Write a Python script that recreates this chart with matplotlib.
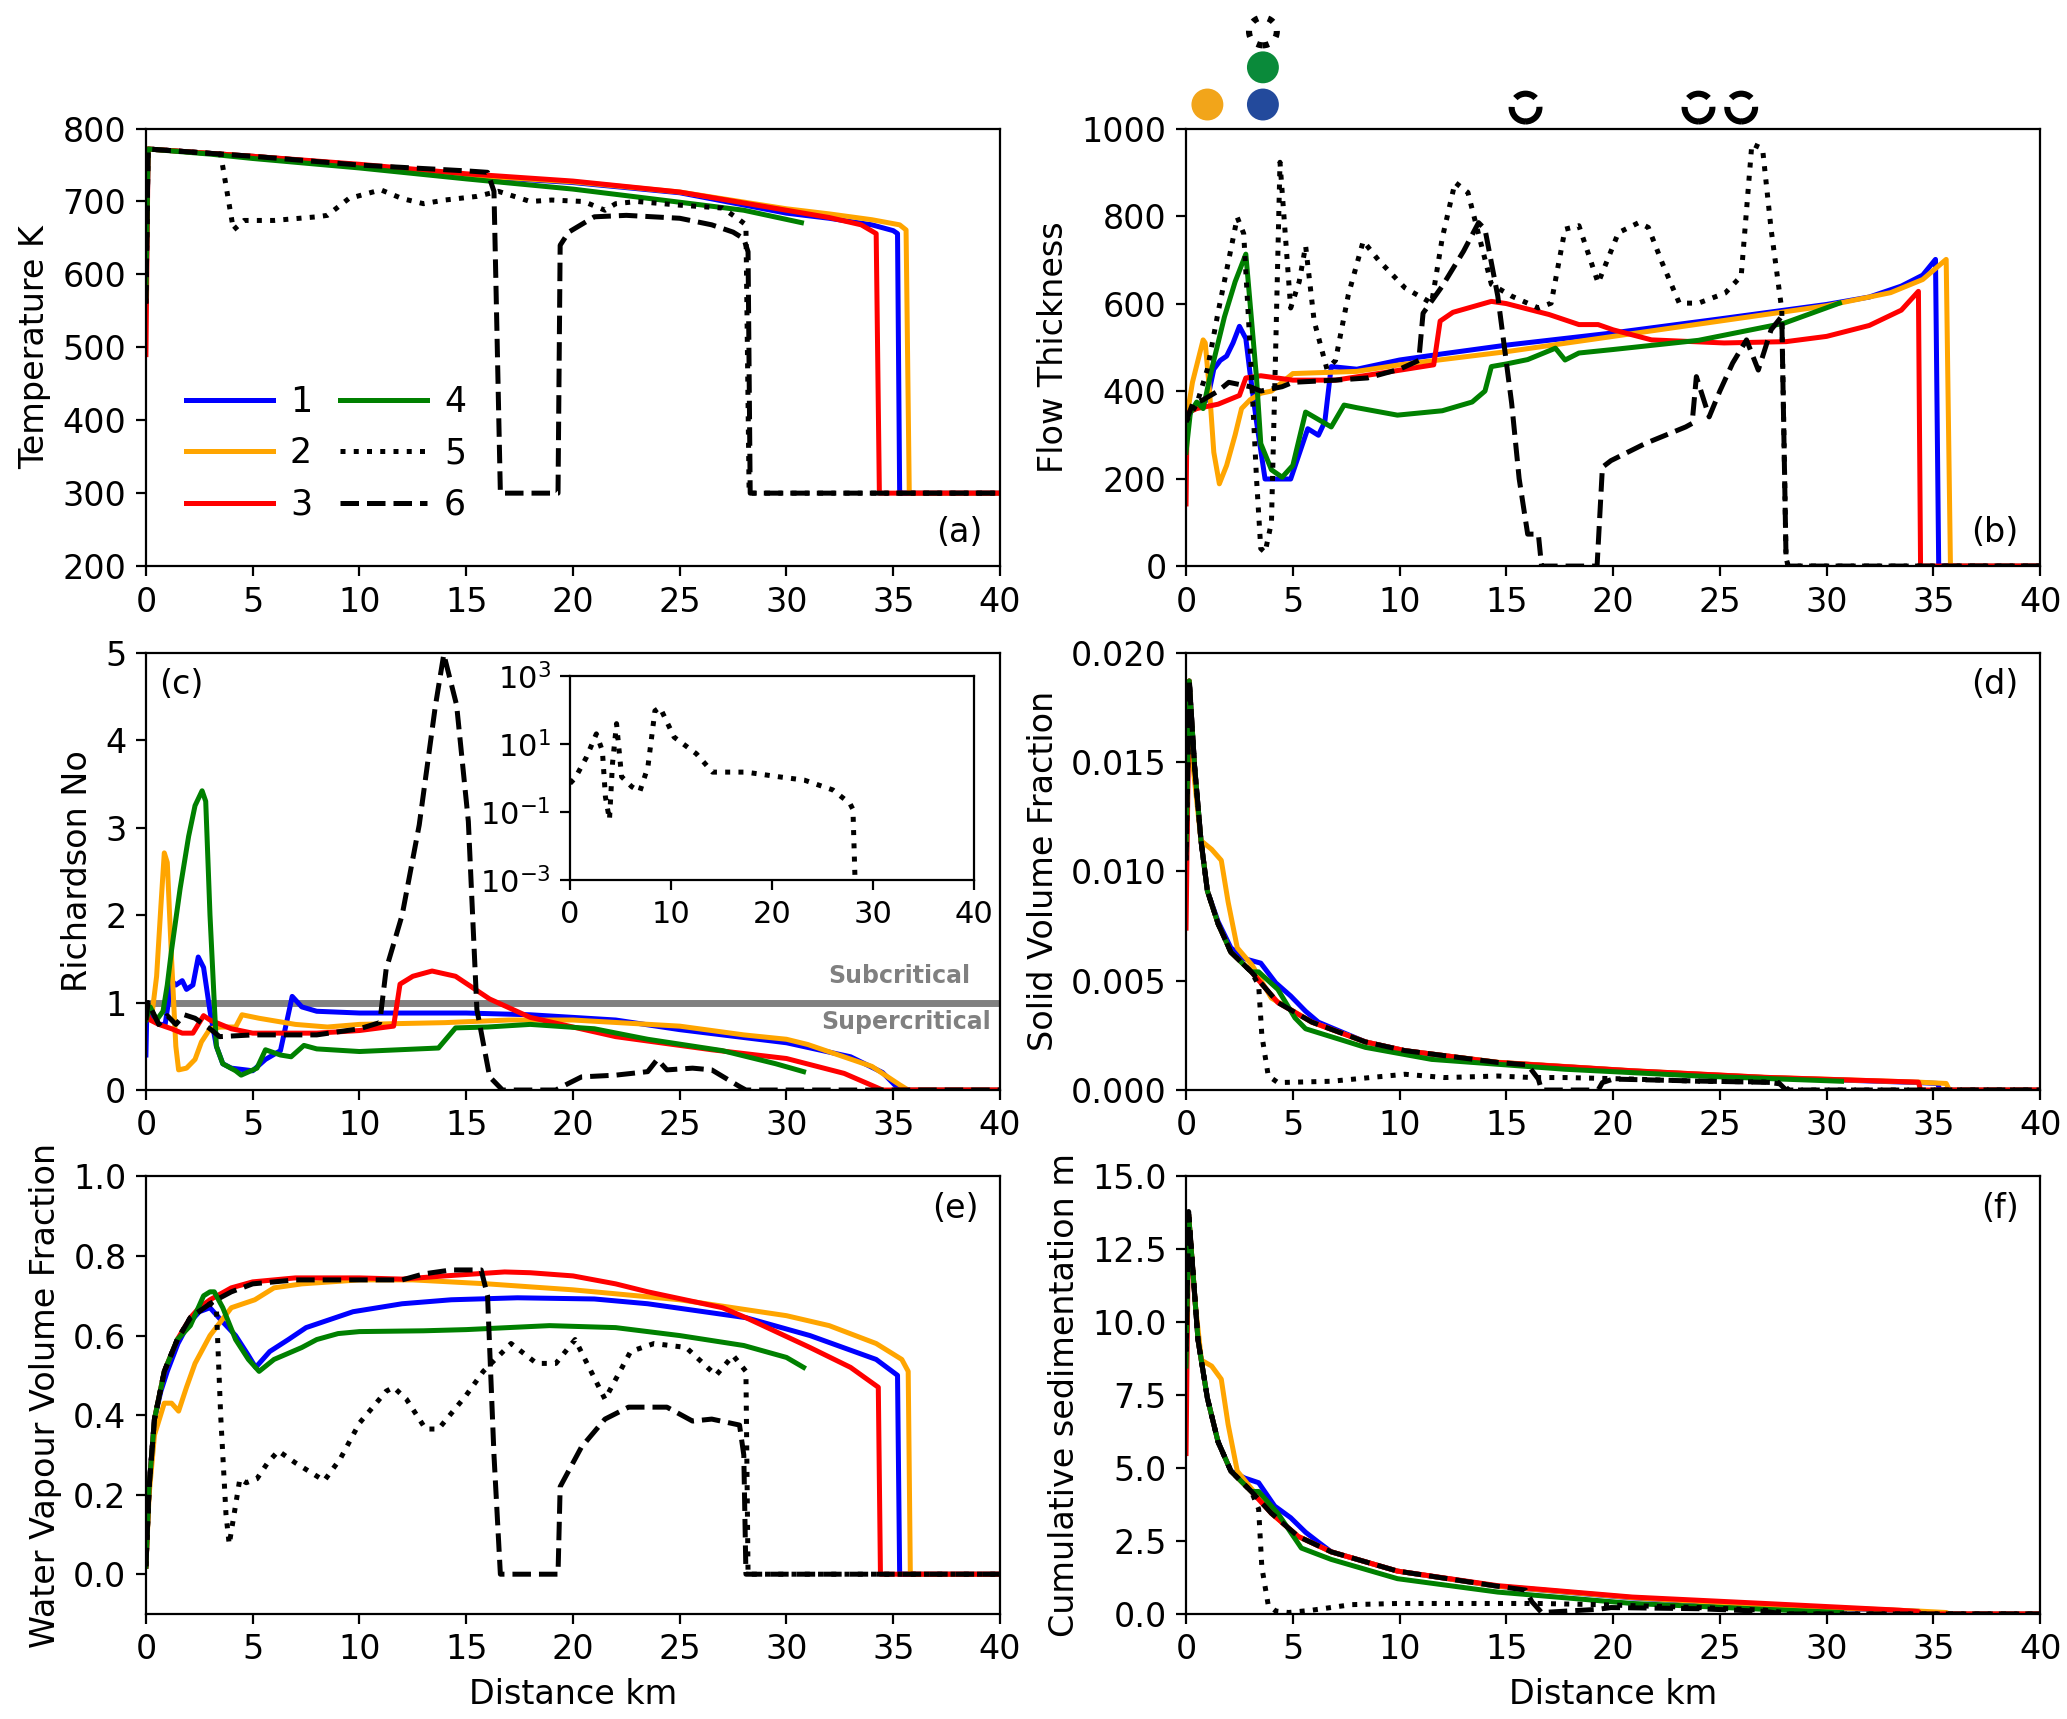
import matplotlib
matplotlib.use("Agg")
import matplotlib.pyplot as plt
import numpy as np

plt.rcParams['font.family'] = ['DejaVu Sans']
plt.rcParams['font.size'] = 12

# colours / styles for the six runs
colors = ['#0000ff', '#ffa500', '#ff0000', '#008000', 'black', 'black']
styles = ['-', '-', '-', '-', ':', '--']
labels = ['1', '2', '3', '4', '5', '6']

# ---------------- (a) temperature ----------------
temp_x1 = [0, 0.1, 3, 5, 10, 15, 20, 25, 30, 32, 34, 35.0, 35.2, 35.3, 40]
temp_y1 = [560, 772, 766, 762, 750, 735, 726, 712, 684, 677, 668, 660, 656, 300, 300]
temp_x2 = [0, 0.1, 3, 5, 10, 15, 20, 25, 30, 32, 34, 35.3, 35.6, 35.75, 40]
temp_y2 = [580, 772, 766, 762, 750, 736, 727, 713, 690, 683, 675, 668, 661, 300, 300]
temp_x3 = [0, 0.1, 3, 5, 10, 15, 20, 25, 30, 32, 33.5, 34.2, 34.35, 40]
temp_y3 = [490, 772, 766, 762, 751, 738, 728, 713, 688, 678, 668, 656, 300, 300]
temp_x4 = [0, 0.1, 3, 5, 10, 15, 20, 25, 28, 30.7]
temp_y4 = [570, 772, 765, 759, 746, 731, 717, 699, 688, 671]
temp_x5 = [0, 0.1, 3.5, 4.1, 4.6, 6, 8, 8.5, 9.5, 11, 12, 13, 14, 15.5, 16.5, 18, 19,
           20.5, 21.5, 22, 23, 25, 27, 27.7, 28.1, 28.25, 40]
temp_y5 = [560, 772, 765, 661, 674, 674, 679, 681, 704, 716, 704, 697, 702, 707, 714, 700, 702,
           700, 688, 697, 700, 695, 691, 677, 668, 300, 300]
temp_x6 = [0, 0.1, 5, 10, 15, 16, 16.3, 16.6, 19.3, 19.4, 19.8, 21, 22.5, 25, 26.5, 27.5,
           28, 28.2, 28.3, 40]
temp_y6 = [560, 772, 762, 750, 742, 740, 714, 300, 300, 640, 658, 679, 681, 677, 668, 658,
           649, 631, 300, 300]

# ---------------- (b) flow thickness ----------------
thick_x1 = [0, 0.3, 1.0, 1.3, 1.6, 1.9, 2.2, 2.5, 2.8, 3.0, 3.3, 3.7, 4.9, 5.7, 6.2, 6.5,
            6.8, 7.0, 8, 10, 12, 15, 20, 25, 30, 32, 33.5, 34.5, 35.1, 35.25, 40]
thick_y1 = [330, 360, 380, 450, 470, 480, 510, 548, 520, 440, 330, 199, 199, 314, 299, 330,
            456, 455, 450, 471, 485, 505, 533, 565, 598, 615, 640, 665, 701, 0, 0]
thick_x2 = [0, 0.3, 0.8, 0.9, 1.1, 1.3, 1.56, 1.9, 2.3, 2.6, 3.0, 3.5, 4.0, 4.5, 5, 8, 10,
            15, 20, 25, 30, 33, 34.5, 35.6, 35.8, 40]
thick_y2 = [330, 420, 517, 510, 400, 260, 188, 230, 300, 360, 380, 395, 400, 420, 440, 445,
            460, 490, 525, 560, 595, 625, 655, 701, 0, 0]
thick_x3 = [0, 0.05, 0.5, 1.5, 2.5, 2.8, 3.5, 5, 7, 9, 11.6, 11.9, 12.5, 14.3, 15, 17, 18.4,
            19.3, 20, 21.8, 25.2, 28.1, 30, 32, 33.5, 34.3, 34.4, 40]
thick_y3 = [142, 350, 360, 370, 390, 430, 435, 425, 425, 440, 460, 560, 580, 605, 600, 575,
            552, 552, 540, 517, 510, 513, 525, 550, 585, 628, 0, 0]
thick_x4 = [0, 0.2, 0.5, 0.8, 1.2, 1.8, 2.3, 2.8, 3.0, 3.3, 3.5, 4.0, 4.5, 5.0, 5.6, 6.2,
            6.8, 7.4, 8, 9.9, 12, 13.4, 14.0, 14.3, 15, 16, 17.3, 17.75, 18.4, 20, 24, 28, 30.6]
thick_y4 = [260, 350, 375, 360, 450, 570, 650, 713, 600, 430, 280, 220, 203, 230, 352, 335,
            318, 368, 362, 345, 355, 375, 400, 456, 462, 472, 498, 471, 487, 495, 516, 555, 601]
thick_x5 = [0, 0.5, 1.0, 1.5, 2.0, 2.4, 2.7, 3.0, 3.3, 3.5, 3.7, 4.0, 4.2, 4.4, 4.9, 5.3,
            5.6, 6.0, 6.6, 7.0, 7.6, 8.3, 9.0, 10.25, 11.5, 12.0, 12.6, 13.2, 14.3, 15.25,
            16.5, 17.1, 17.75, 18.4, 19.3, 20.25, 21.2, 21.65, 22.3, 23.1, 24, 25.25, 26,
            26.5, 27.0, 27.4, 27.9, 28.1, 28.2, 40]
thick_y5 = [330, 370, 450, 580, 700, 797, 760, 500, 200, 40, 31, 100, 500, 923, 590, 650,
            732, 560, 450, 470, 620, 743, 700, 636, 601, 750, 877, 854, 644, 617,
            590, 601, 770, 778, 647, 762, 785, 774, 693, 601, 601, 624, 663,
            965, 954, 770, 586, 19, 0, 0]
thick_x6 = [0, 0.3, 0.8, 1.5, 2.0, 3.0, 3.5, 4.5, 5.0, 7.0, 8.5, 10, 10.9, 11.1, 12, 13,
            13.7, 14.0, 14.6, 15.25, 15.6, 16.0, 16.5, 16.65, 19.25, 19.5, 19.9, 21.5, 23.4,
            23.7, 23.9, 24.5, 25.0, 25.6, 26.25, 26.8, 27.4, 27.9, 28.1, 28.2, 40]
thick_y6 = [330, 370, 380, 400, 420, 410, 400, 410, 420, 425, 430, 450, 470, 578, 640, 720,
            785, 770, 617, 372, 200, 73, 73, 0, 0, 226, 241, 280, 318,
            326, 433, 341, 400, 464, 517, 448, 540, 571, 19, 0, 0]

# markers drawn above panel (b)
mark_x = [1.0, 3.6, 3.6, 3.6]
mark_y = [1055, 1055, 1140, 1222]
mark_col = ['#f2a51a', '#234a9c', '#0a8a3a', 'none']
dash_mark_x = [15.9, 24.0, 26.0]
dash_mark_y = [1048, 1048, 1048]

# ---------------- (c) Richardson number ----------------
ri_x1 = [0, 0.05, 0.3, 0.6, 0.9, 1.2, 1.4, 1.7, 1.9, 2.2, 2.45, 2.7, 3.0, 3.3, 3.6, 4.0,
         5.0, 5.6, 6.3, 6.7, 6.85, 7.3, 8, 10, 15, 18, 20, 22, 25, 28, 30, 33, 34.5, 35.3, 40]
ri_y1 = [0.4, 1.0, 0.85, 0.75, 0.75, 1.25, 1.2, 1.25, 1.15, 1.2, 1.52, 1.4, 0.9, 0.5, 0.3,
         0.25, 0.22, 0.35, 0.45, 0.9, 1.07, 0.95, 0.9, 0.88, 0.88, 0.86, 0.83, 0.8, 0.69,
         0.6, 0.54, 0.38, 0.2, 0.0, 0.0]
ri_x2 = [0, 0.3, 0.5, 0.7, 0.86, 1.0, 1.2, 1.4, 1.53, 1.9, 2.3, 2.6, 3.0, 3.5, 4.2, 4.5,
         5.3, 7, 8.5, 10, 14, 17, 20, 25, 28, 30, 31, 34, 35.3, 35.7, 40]
ri_y2 = [1.0, 0.9, 1.3, 2.1, 2.71, 2.6, 1.5, 0.5, 0.23, 0.25, 0.35, 0.55, 0.7, 0.72, 0.72,
         0.86, 0.82, 0.75, 0.72, 0.75, 0.77, 0.8, 0.8, 0.73, 0.63, 0.58, 0.52, 0.27, 0.06,
         0.0, 0.0]
ri_x3 = [0, 0.2, 0.6, 1.2, 1.7, 2.2, 2.7, 3.0, 4, 5, 8, 10, 11.6, 11.9, 12.5, 13.4, 14.5,
         16.1, 18, 20, 22, 26.5, 30, 32.7, 34.5, 40]
ri_y3 = [0.9, 0.8, 0.75, 0.7, 0.65, 0.65, 0.85, 0.8, 0.7, 0.65, 0.65, 0.68, 0.73, 1.21, 1.3,
         1.36, 1.3, 1.04, 0.83, 0.72, 0.61, 0.46, 0.36, 0.19, 0.0, 0.0]
ri_x4 = [0, 0.2, 0.5, 0.8, 1.0, 1.2, 1.6, 2.0, 2.3, 2.63, 2.8, 3.0, 3.3, 3.6, 4.2, 4.46,
         5.2, 5.6, 6.3, 6.8, 7.4, 8, 10, 13.7, 14.5, 16, 18, 21, 23.5, 27, 29.5, 30.8]
ri_y4 = [0.8, 0.95, 0.8, 0.9, 1.2, 1.6, 2.3, 2.9, 3.25, 3.42, 3.3, 2.0, 0.5, 0.3, 0.22,
         0.17, 0.25, 0.46, 0.4, 0.38, 0.51, 0.47, 0.44, 0.48, 0.71, 0.72, 0.75, 0.7, 0.58,
         0.45, 0.3, 0.21]
ri_x6 = [0, 0.1, 0.3, 0.6, 1.0, 1.4, 1.8, 2.3, 3.0, 3.45, 5, 8, 10, 10.95, 11.25, 12,
         12.8, 13.55, 13.95, 14.55, 15.1, 15.5, 16.1, 16.7, 19.2, 19.5, 20.4, 22, 23.5,
         23.95, 24.4, 25.6, 26.5, 27.8, 28.1, 40]
ri_y6 = [0.8, 1.0, 0.9, 0.75, 0.85, 0.75, 0.86, 0.82, 0.7, 0.61, 0.63, 0.63, 0.7, 0.77,
         1.38, 2.0, 3.03, 4.38, 4.98, 4.4, 3.07, 0.92, 0.15, 0.0, 0.0, 0.04, 0.15, 0.17,
         0.21, 0.35, 0.23, 0.25, 0.23, 0.04, 0.0, 0.0]

# inset: run 5 on log axis
ins_x5 = [0, 0.5, 1.6, 2.6, 3.2, 3.5, 3.9, 4.2, 4.6, 5.1, 6.1, 6.9, 7.7, 8.4, 8.9, 10.3,
          12.5, 14.1, 17.4, 20.6, 23.2, 26, 27.7, 28.0, 28.2]
ins_y5 = [0.7, 1.0, 4.0, 20, 6.3, 0.28, 0.06, 2.7, 40, 1.1, 0.56, 0.4, 2.1, 95, 120, 16,
          5.2, 1.5, 1.5, 1.1, 0.87, 0.45, 0.18, 0.12, 0.0012]

# ---------------- (d) solid volume fraction ----------------
svf_x1 = [0, 0.15, 0.4, 0.7, 1.0, 1.5, 2.1, 2.75, 3.5, 4.2, 4.9, 5.6, 6.2, 8.4, 10.25,
          14.6, 20.9, 27.1, 34.3, 35.2, 35.3, 40]
svf_y1 = [0.0095, 0.0187, 0.0148, 0.0114, 0.0091, 0.0077, 0.0065, 0.006, 0.0058, 0.0049,
          0.0043, 0.0036, 0.0031, 0.0022, 0.0018, 0.00126, 0.00087, 0.00057, 0.00034,
          0.0003, 0.0, 0.0]
svf_x2 = [0, 0.15, 0.25, 0.7, 1.2, 1.65, 1.97, 2.4, 3.1, 4.0, 5.9, 8.4, 10.25, 14.6, 20.9,
          27.1, 34.3, 35.6, 35.75, 40]
svf_y2 = [0.0100, 0.0187, 0.0155, 0.0114, 0.011, 0.0105, 0.0086, 0.0065, 0.0057, 0.0042,
          0.0031, 0.0022, 0.0018, 0.00127, 0.00088, 0.00058, 0.00036, 0.0003, 0.0, 0.0]
svf_x3 = [0, 0.15, 0.4, 0.7, 1.0, 1.5, 2.1, 3.06, 4.3, 5.9, 8.4, 10.25, 14.6, 20.9, 27.1,
          34.3, 34.4, 40]
svf_y3 = [0.0074, 0.0187, 0.0148, 0.0114, 0.0091, 0.0076, 0.0063, 0.0054, 0.004, 0.0031,
          0.0022, 0.0018, 0.00126, 0.00088, 0.00058, 0.00036, 0.0, 0.0]
svf_x4 = [0, 0.15, 0.4, 0.7, 1.0, 1.5, 2.1, 3.06, 3.4, 4.3, 5.1, 5.6, 8.4, 11.5, 17.75,
          24, 30.7]
svf_y4 = [0.0110, 0.0187, 0.0148, 0.0114, 0.0091, 0.0076, 0.0063, 0.0054, 0.0054, 0.0046,
          0.0033, 0.0028, 0.00195, 0.0014, 0.00095, 0.00064, 0.0004]
svf_x5 = [0, 0.15, 0.4, 0.7, 1.0, 1.5, 2.1, 3.06, 3.4, 3.55, 3.85, 4.3, 6.8, 10.25, 12.1,
          14.6, 16.2, 17.75, 20.9, 24, 27.1, 28.0, 28.2, 40]
svf_y5 = [0.0105, 0.0187, 0.0148, 0.0114, 0.0091, 0.0076, 0.0063, 0.0054, 0.0048, 0.0025,
          0.00065, 0.00034, 0.0004, 0.00072, 0.00057, 0.00064, 0.00057, 0.00057, 0.0005,
          0.0004, 0.00037, 0.00026, 0.0, 0.0]
svf_x6 = [0, 0.15, 0.4, 0.7, 1.0, 1.5, 2.1, 3.06, 4.3, 5.9, 8.4, 10.25, 14.6, 16.0, 16.5,
          16.65, 19.3, 19.5, 20, 24, 27.75, 28.1, 40]
svf_y6 = [0.0105, 0.0188, 0.0148, 0.0114, 0.0091, 0.0076, 0.0063, 0.0054, 0.004, 0.0031,
          0.0022, 0.0018, 0.00126, 0.00115, 0.0005, 0.0, 0.0, 0.00034, 0.0005, 0.00041,
          0.00034, 0.0, 0.0]

# ---------------- (e) water vapour volume fraction ----------------
wv_x1 = [0, 0.15, 0.4, 0.7, 1.0, 1.5, 2.0, 2.5, 3.0, 3.5, 4.2, 4.8, 5.14, 5.8, 6.67, 7.5,
         9.7, 12, 14.3, 17.4, 21, 23.5, 28.1, 31.1, 34.2, 35.2, 35.3, 40]
wv_y1 = [0.02, 0.22, 0.39, 0.46, 0.51, 0.58, 0.63, 0.66, 0.67, 0.64, 0.6, 0.55, 0.52, 0.56,
         0.59, 0.62, 0.66, 0.68, 0.69, 0.695, 0.692, 0.68, 0.645, 0.6, 0.54, 0.5, 0.0, 0.0]
wv_x2 = [0, 0.15, 0.4, 0.86, 1.2, 1.53, 1.9, 2.3, 3.0, 4, 5.1, 6, 7.3, 10, 12.5, 16, 20,
         25, 30, 32, 34.2, 35.4, 35.7, 35.8, 40]
wv_y2 = [0.02, 0.2, 0.35, 0.43, 0.43, 0.41, 0.47, 0.53, 0.6, 0.67, 0.69, 0.72, 0.73, 0.74,
         0.74, 0.73, 0.715, 0.69, 0.65, 0.625, 0.58, 0.54, 0.51, 0.0, 0.0]
wv_x3 = [0, 0.15, 0.4, 0.86, 1.47, 2.08, 2.5, 3.0, 4, 5, 7, 10, 12, 14, 16.8, 18, 20, 22,
         23.5, 27, 28.1, 31.1, 33, 34.3, 34.4, 40]
wv_y3 = [0.02, 0.22, 0.39, 0.51, 0.59, 0.645, 0.67, 0.69, 0.72, 0.735, 0.745, 0.745, 0.742,
         0.75, 0.76, 0.758, 0.75, 0.73, 0.71, 0.67, 0.645, 0.57, 0.52, 0.47, 0.0, 0.0]
wv_x4 = [0, 0.15, 0.4, 0.86, 1.47, 2.08, 2.7, 3.0, 3.2, 3.6, 4.2, 4.8, 5.3, 6, 7.3, 8, 9,
         10, 13, 15, 18.9, 22, 25, 28, 30, 30.8]
wv_y4 = [0.02, 0.22, 0.39, 0.51, 0.59, 0.625, 0.70, 0.71, 0.71, 0.67, 0.59, 0.54, 0.51,
         0.54, 0.57, 0.59, 0.605, 0.61, 0.612, 0.615, 0.625, 0.62, 0.60, 0.575, 0.545, 0.52]
wv_x5 = [0, 0.15, 0.4, 0.86, 1.47, 2.08, 3.0, 3.3, 3.5, 3.75, 3.9, 4.4, 4.7, 5.2, 5.7, 6.2,
         7, 8.35, 9.1, 10, 11.25, 11.6, 12.2, 13.1, 13.7, 15, 15.8, 17.1, 18.3, 19.2, 20.1,
         21.5, 22.7, 23.8, 25.3, 26.7, 27.5, 28.1, 28.2, 40]
wv_y5 = [0.02, 0.22, 0.39, 0.51, 0.59, 0.645, 0.68, 0.67, 0.4, 0.15, 0.075, 0.24, 0.23,
         0.24, 0.28, 0.31, 0.28, 0.235, 0.29, 0.38, 0.46, 0.47, 0.44, 0.365, 0.365, 0.45,
         0.51, 0.58, 0.53, 0.53, 0.59, 0.44, 0.56, 0.58, 0.57, 0.5, 0.55, 0.51, 0.0, 0.0]
wv_x6 = [0, 0.15, 0.4, 0.86, 1.47, 2.08, 3.0, 3.3, 4, 5, 7, 9, 12, 13, 14.3, 15.7, 16.0,
         16.3, 16.6, 19.3, 19.4, 20.4, 21.5, 22.6, 24.4, 25.6, 26.5, 27.8, 28.0, 28.1, 40]
wv_y6 = [0.02, 0.22, 0.39, 0.51, 0.59, 0.645, 0.68, 0.69, 0.71, 0.73, 0.74, 0.74, 0.74,
         0.755, 0.765, 0.765, 0.70, 0.3, 0.0, 0.0, 0.22, 0.32, 0.39, 0.42, 0.42, 0.385,
         0.39, 0.375, 0.3, 0.0, 0.0]

# ---------------- (f) cumulative sedimentation ----------------
sed_x1 = [0, 0.12, 0.56, 1.0, 1.5, 2.1, 2.75, 3.4, 4.15, 4.9, 5.6, 6.2, 6.8, 9.9, 14.6,
          20.9, 27.1, 34.3, 35.0, 35.3, 40]
sed_y1 = [8.0, 13.7, 9.4, 7.4, 5.9, 4.9, 4.66, 4.5, 3.7, 3.3, 2.8, 2.46, 2.13, 1.47, 0.95,
          0.55, 0.29, 0.09, 0.03, 0.0, 0.0]
sed_x2 = [0, 0.12, 0.45, 0.72, 1.2, 1.65, 1.97, 2.4, 3.06, 4.0, 5.25, 6.8, 9.9, 14.6, 20.9,
          27.1, 34.3, 35.6, 35.75, 40]
sed_y2 = [9.0, 13.7, 10.5, 8.7, 8.5, 8.05, 6.5, 4.9, 4.3, 3.45, 2.66, 2.13, 1.47, 0.95,
          0.56, 0.3, 0.1, 0.05, 0.0, 0.0]
sed_x3 = [0, 0.12, 0.56, 1.0, 1.5, 2.1, 3.06, 4.0, 5.25, 6.8, 9.9, 14.6, 20.9, 27.1, 33.4,
          34.3, 34.4, 40]
sed_y3 = [5.5, 13.7, 9.4, 7.4, 5.9, 4.9, 4.2, 3.45, 2.66, 2.13, 1.47, 0.97, 0.58, 0.36,
          0.13, 0.08, 0.0, 0.0]
sed_x4 = [0, 0.12, 0.56, 1.0, 1.5, 2.1, 3.06, 3.4, 4.3, 4.9, 5.4, 6.8, 9.9, 14.6, 20.9,
          27.1, 30.7]
sed_y4 = [8.5, 13.7, 9.4, 7.4, 5.9, 4.9, 4.2, 4.2, 3.45, 2.8, 2.26, 1.87, 1.21, 0.75, 0.36,
          0.16, 0.05]
sed_x5 = [0, 0.12, 0.56, 1.0, 1.5, 2.1, 3.06, 3.4, 3.55, 3.85, 4.2, 4.8, 5.9, 7.75, 9.9,
          13, 16.5, 19.3, 24, 27.1, 28.0, 28.2, 40]
sed_y5 = [9.0, 13.8, 9.4, 7.4, 5.9, 4.9, 4.2, 3.6, 1.6, 0.3, 0.1, 0.05, 0.13, 0.32, 0.36,
          0.36, 0.36, 0.32, 0.22, 0.13, 0.05, 0.0, 0.0]
sed_x6 = [0, 0.12, 0.56, 1.0, 1.5, 2.1, 3.06, 4.0, 5.25, 6.8, 9.9, 14.6, 15.9, 16.2, 16.65,
          19.3, 19.9, 24, 27.1, 28.0, 40]
sed_y6 = [9.0, 13.8, 9.4, 7.4, 5.9, 4.9, 4.2, 3.45, 2.66, 2.13, 1.47, 0.95, 0.82, 0.42,
          0.05, 0.16, 0.22, 0.18, 0.09, 0.0, 0.0]

LW = 1.8

fig = plt.figure(figsize=(2067 / 200, 1719 / 200), dpi=200)

left_l, left_r, width = 0.0706, 0.5738, 0.4132
rows = [0.6707, 0.3659, 0.0611]
height = 0.2545

ax_a = fig.add_axes([left_l, rows[0], width, height])
ax_b = fig.add_axes([left_r, rows[0], width, height])
ax_c = fig.add_axes([left_l, rows[1], width, height])
ax_d = fig.add_axes([left_r, rows[1], width, height])
ax_e = fig.add_axes([left_l, rows[2], width, height])
ax_f = fig.add_axes([left_r, rows[2], width, height])


def draw(ax, xs, ys):
    for x, y, c, ls, lab in zip(xs, ys, colors, styles, labels):
        if x is None:
            continue
        ax.plot(x, y, color=c, ls=ls, lw=LW, label=lab)


draw(ax_a, [temp_x1, temp_x2, temp_x3, temp_x4, temp_x5, temp_x6],
     [temp_y1, temp_y2, temp_y3, temp_y4, temp_y5, temp_y6])
draw(ax_b, [thick_x1, thick_x2, thick_x3, thick_x4, thick_x5, thick_x6],
     [thick_y1, thick_y2, thick_y3, thick_y4, thick_y5, thick_y6])
draw(ax_c, [ri_x1, ri_x2, ri_x3, ri_x4, None, ri_x6],
     [ri_y1, ri_y2, ri_y3, ri_y4, None, ri_y6])
draw(ax_d, [svf_x1, svf_x2, svf_x3, svf_x4, svf_x5, svf_x6],
     [svf_y1, svf_y2, svf_y3, svf_y4, svf_y5, svf_y6])
draw(ax_e, [wv_x1, wv_x2, wv_x3, wv_x4, wv_x5, wv_x6],
     [wv_y1, wv_y2, wv_y3, wv_y4, wv_y5, wv_y6])
draw(ax_f, [sed_x1, sed_x2, sed_x3, sed_x4, sed_x5, sed_x6],
     [sed_y1, sed_y2, sed_y3, sed_y4, sed_y5, sed_y6])

for ax in [ax_a, ax_b, ax_c, ax_d, ax_e, ax_f]:
    ax.set_xlim(0, 40)
    ax.set_xticks(np.arange(0, 41, 5))

ax_a.set_ylim(200, 800)
ax_a.set_ylabel('Temperature K')
ax_a.legend(ncol=2, loc='lower left', bbox_to_anchor=(0.01, 0.03), frameon=False,
            handlelength=2.5, handletextpad=0.5, columnspacing=0.8, fontsize=12.5)
ax_a.text(0.98, 0.04, '(a)', transform=ax_a.transAxes, ha='right', va='bottom')

ax_b.set_ylim(0, 1000)
ax_b.set_yticks(np.arange(0, 1001, 200))
ax_b.set_ylabel('Flow Thickness')
ax_b.text(0.975, 0.04, '(b)', transform=ax_b.transAxes, ha='right', va='bottom')
ax_b.scatter(mark_x[:3], mark_y[:3], s=110, c=mark_col[:3], clip_on=False, zorder=5)
ax_b.scatter(mark_x[3:], mark_y[3:], s=100, facecolors='none', edgecolors='black',
             linestyles=':', linewidths=2.2, clip_on=False, zorder=5)
ax_b.scatter(dash_mark_x, dash_mark_y, s=100, facecolors='none', edgecolors='black',
             linestyles='--', linewidths=2.2, clip_on=False, zorder=5)

ax_c.set_ylim(0, 5)
ax_c.set_ylabel('Richardson No')
ax_c.axhline(1, color='#808080', lw=2.5, zorder=0)
ax_c.text(38.6, 1.3, 'Subcritical', color='#808080', fontsize=8.5, fontweight='bold',
          ha='right', va='center')
ax_c.text(39.6, 0.78, 'Supercritical', color='#808080', fontsize=8.5, fontweight='bold',
          ha='right', va='center')
ax_c.text(0.015, 0.965, '(c)', transform=ax_c.transAxes, ha='left', va='top')

ins = fig.add_axes([0.2758, 0.488, 0.1955, 0.1187])
ins.plot(ins_x5, ins_y5, color='black', ls=':', lw=LW)
ins.set_yscale('log')
ins.set_ylim(1e-3, 1e3)
ins.set_xlim(0, 40)
ins.set_xticks([0, 10, 20, 30, 40])
ins.set_yticks([1e-3, 1e-1, 1e1, 1e3])
ins.tick_params(labelsize=11)

ax_d.set_ylim(0, 0.02)
ax_d.set_yticks(np.arange(0, 0.0201, 0.005))
ax_d.yaxis.set_major_formatter(matplotlib.ticker.FormatStrFormatter('%.3f'))
ax_d.set_ylabel('Solid Volume Fraction')
ax_d.text(0.975, 0.965, '(d)', transform=ax_d.transAxes, ha='right', va='top')

ax_e.set_ylim(-0.1, 1.0)
ax_e.set_yticks(np.arange(0, 1.01, 0.2))
ax_e.yaxis.set_major_formatter(matplotlib.ticker.FormatStrFormatter('%.1f'))
ax_e.set_ylabel('Water Vapour Volume Fraction')
ax_e.set_xlabel('Distance km')
ax_e.text(0.975, 0.965, '(e)', transform=ax_e.transAxes, ha='right', va='top')

ax_f.set_ylim(0, 15)
ax_f.set_yticks(np.arange(0, 15.1, 2.5))
ax_f.yaxis.set_major_formatter(matplotlib.ticker.FormatStrFormatter('%.1f'))
ax_f.set_ylabel('Cumulative sedimentation m')
ax_f.set_xlabel('Distance km')
ax_f.text(0.975, 0.965, '(f)', transform=ax_f.transAxes, ha='right', va='top')

fig.savefig('out.png', dpi=200)
